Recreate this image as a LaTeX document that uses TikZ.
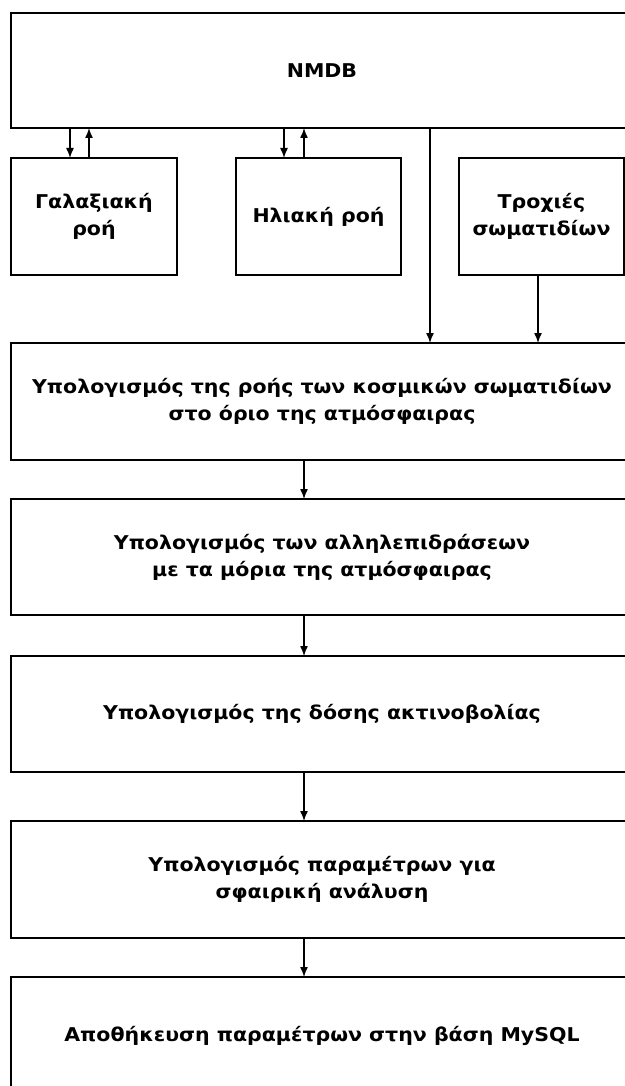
\documentclass[tikz,border=0pt]{standalone}
\usepackage{fontspec}
\setmainfont[FakeStretch=1.08]{DejaVu Sans}
\usetikzlibrary{arrows.meta}

\begin{document}
\begin{tikzpicture}[x=1pt,y=-1pt,
        box/.style={draw,line width=1.5pt,anchor=north west,inner sep=0pt,outer sep=0pt,
            align=center,font=\bfseries\fontsize{19}{27}\selectfont},
        wide/.style={box,minimum width=622pt,minimum height=117pt},
        small/.style={box,minimum width=165pt,minimum height=117pt},
        arr/.style={-{Latex[length=10pt,width=8pt]},line width=1.4pt}]
        \useasboundingbox (0,0) rectangle (624,1086);

        \coordinate (gdown) at (70,0);
        \coordinate (gup) at (89,0);
        \coordinate (hdown) at (284,0);
        \coordinate (hup) at (304,0);
        \coordinate (ndown) at (430,0);
        \coordinate (tdown) at (538,0);
        \coordinate (mid) at (304,0);

        \node[wide,minimum height=115pt] (nmdb) at (11,13) {NMDB};
        \node[small,minimum width=166pt] (gal) at (11,158) {Γαλαξιακή\\ροή};
        \node[small] (hel) at (236,158) {Ηλιακή ροή};
        \node[small] (trox) at (459,158) {Τροχιές\\σωματιδίων};
        \node[wide] (flux) at (11,343) {Υπολογισμός της ροής των κοσμικών σωματιδίων\\στο όριο της ατμόσφαιρας};
        \node[wide,minimum height=116pt] (inter) at (11,499) {Υπολογισμός των αλληλεπιδράσεων\\με τα μόρια της ατμόσφαιρας};
        \node[wide,minimum height=116pt] (dose) at (11,656) {Υπολογισμός της δόσης ακτινοβολίας};
        \node[wide] (param) at (11,821) {Υπολογισμός παραμέτρων για\\σφαιρική ανάλυση};
        \node[wide] (store) at (11,977) {Αποθήκευση παραμέτρων στην βάση MySQL};

        \draw[arr] (nmdb.south -| gdown) -- (gal.north -| gdown);
        \draw[arr] (gal.north -| gup) -- (nmdb.south -| gup);
        \draw[arr] (nmdb.south -| hdown) -- (hel.north -| hdown);
        \draw[arr] (hel.north -| hup) -- (nmdb.south -| hup);
        \draw[arr] (nmdb.south -| ndown) -- (flux.north -| ndown);
        \draw[arr] (trox.south -| tdown) -- (flux.north -| tdown);

        \draw[arr] (flux.south -| mid) -- (inter.north -| mid);
        \draw[arr] (inter.south -| mid) -- (dose.north -| mid);
        \draw[arr] (dose.south -| mid) -- (param.north -| mid);
        \draw[arr] (param.south -| mid) -- (store.north -| mid);
\end{tikzpicture}
\end{document}
